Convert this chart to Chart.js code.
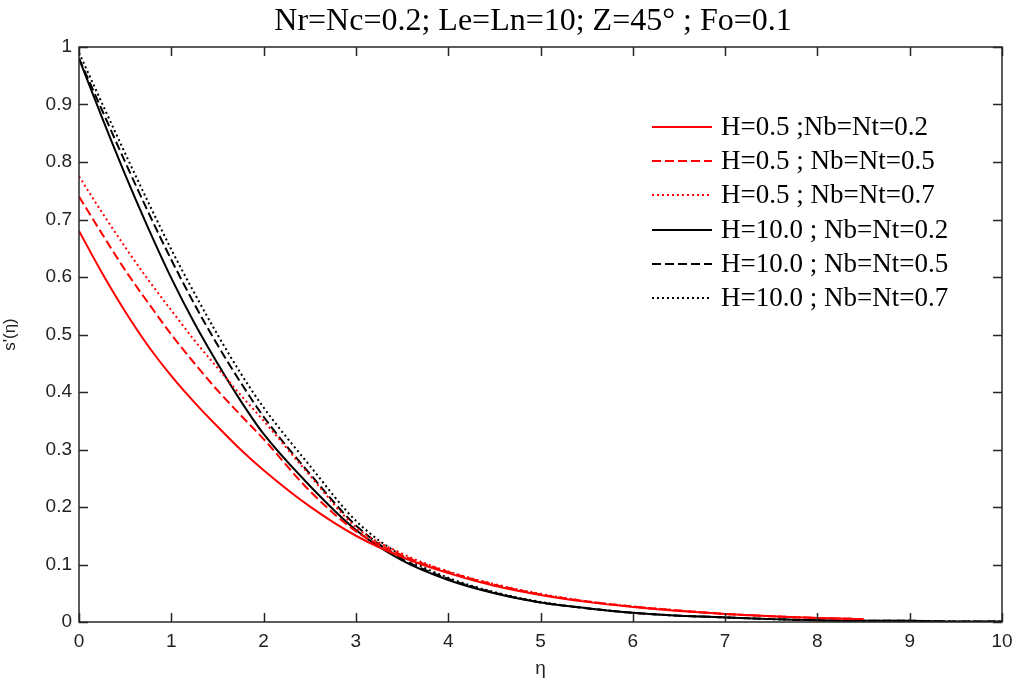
<!DOCTYPE html>
<html>
<head>
<meta charset="utf-8">
<script src="https://cdn.jsdelivr.net/npm/chart.js@4/dist/chart.umd.min.js"></script>
<style>
html,body{margin:0;padding:0;background:#fff;}
#wrap{width:1016px;height:680px;}
</style>
</head>
<body>
<div id="wrap"><canvas id="c" width="1016" height="680"></canvas></div>
<script>
const titleText = "Nr=Nc=0.2; Le=Ln=10; Z=45° ; Fo=0.1";
const xLabel = "η";
const yLabel = "s'(η)";
const xTicks = [0,1,2,3,4,5,6,7,8,9,10];
const yTicks = [0,0.1,0.2,0.3,0.4,0.5,0.6,0.7,0.8,0.9,1];
const eta = [0,0.25,0.5,0.75,1,1.25,1.5,1.75,2,2.5,3,3.5,4,4.5,5,5.5,6,6.5,7,7.5,8,8.5,9,9.5,10];
const seriesLabels = [
  "H=0.5 ;Nb=Nt=0.2",
  "H=0.5 ; Nb=Nt=0.5",
  "H=0.5 ; Nb=Nt=0.7",
  "H=10.0 ; Nb=Nt=0.2",
  "H=10.0 ; Nb=Nt=0.5",
  "H=10.0 ; Nb=Nt=0.7"
];
const h05_02 = [0.68,0.607,0.54,0.48,0.428,0.382,0.34,0.30,0.264,0.201,0.150,0.113,0.085,0.063,0.047,0.035,0.026,0.019,0.014,0.010,0.007,0.005,null,null,null];
const h05_05 = [0.74,0.675,0.612,0.555,0.50,0.45,0.403,0.36,0.318,0.228,0.158,0.116,0.087,0.065,0.048,0.036,0.027,0.020,0.014,0.010,0.007,0.005,null,null,null];
const h05_07 = [0.775,0.712,0.652,0.595,0.542,0.49,0.442,0.395,0.350,0.255,0.165,0.119,0.088,0.066,0.049,0.036,0.027,0.020,0.014,0.010,0.007,0.005,null,null,null];
const h10_02 = [0.98,0.877,0.778,0.685,0.598,0.52,0.45,0.385,0.327,0.237,0.160,0.107,0.073,0.050,0.034,0.024,0.016,0.011,0.008,0.005,0.003,0.002,0.002,0.001,0.001];
const h10_05 = [0.98,0.89,0.80,0.713,0.63,0.553,0.482,0.417,0.357,0.258,0.168,0.110,0.075,0.051,0.034,0.024,0.016,0.011,0.008,0.005,0.003,0.002,0.002,0.001,0.001];
const h10_07 = [0.99,0.902,0.815,0.73,0.648,0.572,0.50,0.433,0.373,0.272,0.176,0.115,0.077,0.052,0.035,0.024,0.016,0.011,0.008,0.005,0.003,0.002,0.002,0.001,0.001];

const seriesValues = [h05_02,h05_05,h05_07,h10_02,h10_05,h10_07];
const colors = ["#ff0000","#ff0000","#ff0000","#000000","#000000","#000000"];
const dashes = [[],[9,4],[2,3],[],[9,4],[2,3]];

const datasets = seriesValues.map((vals,i)=>({
  label: seriesLabels[i],
  data: eta.map((x,j)=>({x:x,y:vals[j]})).filter(p=>p.y!==null),
  borderColor: colors[i],
  backgroundColor: colors[i],
  borderDash: dashes[i],
  borderWidth: 2,
  pointRadius: 0,
  fill: false,
  cubicInterpolationMode: 'monotone'
}));

const framePlugin = {
  id:'frame',
  afterDraw(chart){
    const ctx = chart.ctx;
    const a = chart.chartArea;
    const xs = chart.scales.x, ys = chart.scales.y;
    ctx.save();
    ctx.strokeStyle = '#262626';
    ctx.lineWidth = 1.5;
    ctx.strokeRect(a.left, a.top, a.right-a.left, a.bottom-a.top);
    ctx.beginPath();
    xTicks.forEach(v=>{
      const px = Math.round(xs.getPixelForValue(v))+0.5;
      ctx.moveTo(px,a.bottom); ctx.lineTo(px,a.bottom-9);
      ctx.moveTo(px,a.top); ctx.lineTo(px,a.top+9);
    });
    yTicks.forEach(v=>{
      const py = Math.round(ys.getPixelForValue(v))+0.5;
      ctx.moveTo(a.left,py); ctx.lineTo(a.left+9,py);
      ctx.moveTo(a.right,py); ctx.lineTo(a.right-9,py);
    });
    ctx.stroke();
    // title
    ctx.fillStyle = '#000';
    ctx.font = '32px "Liberation Serif", "Times New Roman", serif';
    ctx.textAlign = 'center';
    ctx.textBaseline = 'middle';
    ctx.fillText(titleText, 533, 22);
    // legend
    ctx.font = '27px "Liberation Serif", "Times New Roman", serif';
    ctx.textAlign = 'left';
    const rowY = [127,161,195,230,264,298];
    chart.data.datasets.forEach((d,i)=>{
      const y = rowY[i];
      ctx.save();
      ctx.strokeStyle = d.borderColor;
      ctx.lineWidth = 2;
      ctx.setLineDash(d.borderDash);
      ctx.beginPath();
      ctx.moveTo(652,y); ctx.lineTo(712,y);
      ctx.stroke();
      ctx.restore();
      ctx.fillStyle = '#000';
      ctx.fillText(d.label, 721, y+1);
    });
    ctx.restore();
  }
};

new Chart(document.getElementById('c'), {
  type:'line',
  data:{datasets:datasets},
  options:{
    responsive:false,
    devicePixelRatio:1,
    animation:false,
    layout:{padding:{top:47,right:14,left:0,bottom:0}},
    plugins:{legend:{display:false},title:{display:false},tooltip:{enabled:false}},
    scales:{
      x:{
        type:'linear', min:0, max:10,
        afterBuildTicks(s){ s.ticks = xTicks.map(v=>({value:v})); },
        afterFit(s){ s.height = 58; s.paddingLeft = 0; s.paddingRight = 0; },
        grid:{display:false, drawTicks:false},
        border:{display:false},
        ticks:{padding:8, color:'#222', font:{family:'"Liberation Sans", Arial, sans-serif', size:19}, maxRotation:0, autoSkip:false},
        title:{display:true, text:xLabel, color:'#222', padding:{top:2,bottom:0}, font:{family:'"Liberation Sans", Arial, sans-serif', size:19}}
      },
      y:{
        type:'linear', min:0, max:1,
        afterBuildTicks(s){ s.ticks = yTicks.map(v=>({value:v})); },
        afterFit(s){ s.width = 79; s.paddingTop = 0; s.paddingBottom = 0; },
        grid:{display:false, drawTicks:false},
        border:{display:false},
        ticks:{padding:7, color:'#222', font:{family:'"Liberation Sans", Arial, sans-serif', size:19}, autoSkip:false,
          callback:(v)=>String(Math.round(v*10)/10)},
        title:{display:true, text:yLabel, color:'#222', padding:{top:0,bottom:0}, font:{family:'"Liberation Sans", Arial, sans-serif', size:17}}
      }
    }
  },
  plugins:[framePlugin]
});
</script>
</body>
</html>
